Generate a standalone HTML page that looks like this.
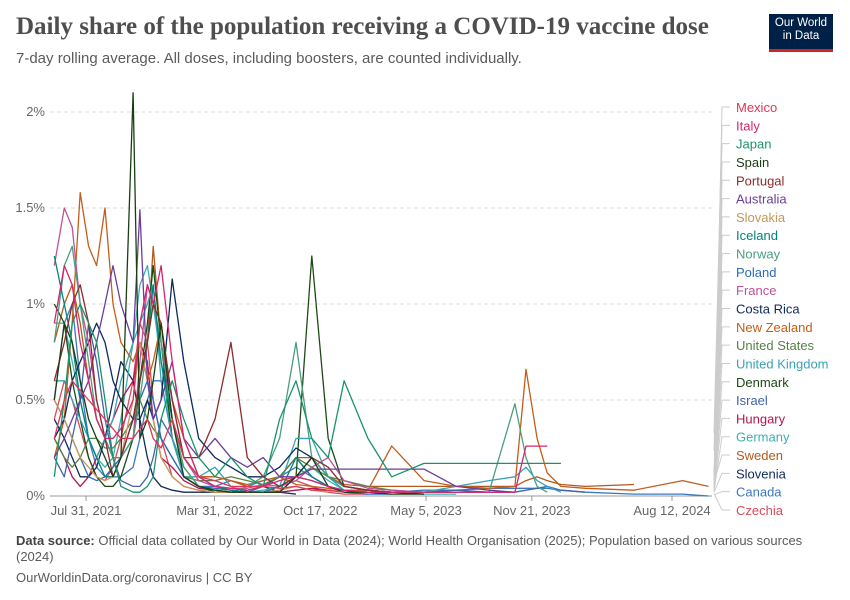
<!DOCTYPE html>
<html><head><meta charset="utf-8">
<style>
body{margin:0;background:#fff;font-family:"Liberation Sans",sans-serif;}
#wrap{position:relative;width:850px;height:600px;overflow:hidden;}
.title{position:absolute;left:16px;top:13px;font-family:"Liberation Serif",serif;font-weight:bold;font-size:25px;color:#4e4e4e;}
.sub{position:absolute;left:16px;top:50px;font-size:15px;color:#5b5b5b;}
.logo{position:absolute;left:769px;top:14px;width:64px;height:38px;background:#002147;color:#fff;font-size:11.5px;line-height:13px;text-align:center;padding-top:3px;box-sizing:border-box;border-bottom:3px solid #ce261e;}
.foot{position:absolute;left:16px;top:533px;width:790px;font-size:13px;color:#5b5b5b;line-height:16px;}
.foot b{color:#444}
.url{position:absolute;left:16px;top:570px;font-size:13px;color:#5b5b5b;}
</style></head><body>
<div id="wrap">
<div class="title">Daily share of the population receiving a COVID-19 vaccine dose</div>
<div class="sub">7-day rolling average. All doses, including boosters, are counted individually.</div>
<div class="logo">Our World<br>in Data</div>
<svg id="chart" width="850" height="600" style="position:absolute;left:0;top:0"></svg>
<div class="foot"><b>Data source:</b> Official data collated by Our World in Data (2024); World Health Organisation (2025); Population based on various sources (2024)</div>
<div class="url">OurWorldinData.org/coronavirus | CC BY</div>
</div>
<script>
const dates=["2021-06-01","2021-06-20","2021-07-05","2021-07-20","2021-08-05","2021-08-20","2021-09-05","2021-09-20","2021-10-05","2021-10-28","2021-11-10","2021-11-24","2021-12-05","2021-12-20","2022-01-10","2022-02-01","2022-03-01","2022-04-01","2022-05-01","2022-06-01","2022-07-01","2022-08-01","2022-09-01","2022-10-01","2022-11-01","2022-12-01","2023-01-15","2023-03-01","2023-05-01","2023-07-01","2023-09-01","2023-10-20","2023-11-10","2023-12-01","2023-12-20","2024-01-15","2024-03-01","2024-06-01","2024-09-01","2024-10-20"];
const countries=["Mexico","Italy","Japan","Spain","Portugal","Australia","Slovakia","Iceland","Norway","Poland","France","Costa Rica","New Zealand","United States","United Kingdom","Denmark","Israel","Hungary","Germany","Sweden","Slovenia","Canada","Czechia"];
const colors=["#e0355a","#d6246e","#18946a","#1b3d12","#8c2b2b","#6b3d9a","#c5975a","#00847e","#4c9e7e","#286bbb","#c15098","#0c2a5e","#c45d1b","#578145","#3aa2b6","#1c4a14","#4263a8","#b0164e","#3bb0b0","#b35a1a","#102a5a","#3a78c0","#d94b5a"];
const vMexico=[0.3,0.5,0.6,0.55,0.5,0.45,0.4,0.35,0.3,0.3,0.35,0.4,0.3,0.25,0.4,0.2,0.1,0.08,0.05,0.05,0.05,0.04,0.05,0.03,0.03,0.02];
const vItaly=[0.9,1.2,1.1,0.8,0.6,0.4,0.3,0.3,0.35,0.5,0.9,1.1,1.0,1.2,0.7,0.3,0.1,0.05,0.04,0.03,0.05,0.08,0.1,0.08,0.05,0.03,0.02,0.02,0.02,0.02,0.02,0.02,0.26,0.26,0.26];
const vJapan=[0.1,0.5,0.9,1.0,0.9,0.8,0.5,0.2,0.05,0.02,0.02,0.05,0.1,0.4,0.6,0.4,0.2,0.1,0.2,0.1,0.05,0.4,0.6,0.3,0.2,0.6,0.3,0.1,0.17,0.17,0.17,0.17,0.17,0.17,0.17,0.17];
const vSpain=[0.5,0.9,0.8,0.6,0.4,0.3,0.2,0.1,0.2,2.1,0.3,0.4,0.6,0.9,0.4,0.1,0.05,0.03,0.02,0.02,0.02,0.02,0.1,0.2,0.05,0.02,0.02,0.01,0.01];
const vPortugal=[0.6,0.8,1.0,1.1,0.9,0.5,0.3,0.1,0.2,0.4,0.6,0.8,1.0,0.9,0.5,0.2,0.2,0.4,0.8,0.2,0.1,0.05,0.1,0.2,0.15,0.05,0.03,0.02];
const vAustralia=[0.2,0.3,0.4,0.5,0.6,0.8,1.0,1.2,1.0,0.8,1.49,0.6,0.4,0.5,0.7,0.3,0.2,0.3,0.2,0.15,0.2,0.1,0.1,0.14,0.14,0.14,0.14,0.14,0.14,0.05,0.03,0.02];
const vSlovakia=[0.5,0.4,0.3,0.2,0.15,0.1,0.08,0.1,0.2,0.5,0.8,0.6,0.4,0.2,0.1,0.05,0.03,0.02,0.02,0.02,0.02,0.03,0.05,0.03,0.02];
const vIceland=[1.25,1.0,0.8,0.5,0.3,0.2,0.1,0.1,0.2,0.4,0.6,0.8,1.1,0.7,0.4,0.2,0.1,0.05,0.03,0.02,0.02,0.02,0.2,0.1,0.05,0.02];
const vNorway=[0.8,1.2,1.3,1.0,0.7,0.4,0.3,0.2,0.2,0.3,0.5,0.8,1.0,0.8,0.4,0.15,0.05,0.03,0.02,0.05,0.1,0.3,0.8,0.2,0.1,0.05,0.03,0.02,0.02,0.02,0.02,0.48,0.2,0.05,0.02];
const vPoland=[0.5,0.4,0.3,0.2,0.1,0.08,0.1,0.15,0.2,0.3,0.5,0.6,0.5,0.3,0.2,0.1,0.05,0.03,0.02,0.02,0.02,0.05,0.1,0.08,0.05,0.02,0.01,0.01];
const vFrance=[1.2,1.5,1.4,1.0,0.8,0.5,0.3,0.2,0.2,0.3,0.7,1.1,1.0,0.8,0.5,0.2,0.08,0.05,0.04,0.04,0.06,0.05,0.08,0.15,0.2,0.08,0.04,0.03,0.02,0.02,0.02];
const vCostaRica=[0.3,0.4,0.6,0.7,0.8,0.9,0.8,0.6,0.5,0.4,0.4,0.5,0.4,0.5,1.13,0.7,0.3,0.2,0.15,0.1,0.1,0.15,0.25,0.2,0.1,0.05,0.03,0.02];
const vNewZealand=[0.2,0.4,0.9,1.58,1.3,1.2,1.5,1.0,0.8,0.7,0.8,0.6,0.7,0.9,0.5,0.3,0.1,0.1,0.08,0.06,0.08,0.1,0.06,0.05,0.04,0.03,0.03,0.26,0.08,0.05,0.04,0.05,0.66,0.3,0.12,0.05,0.04,0.03,0.08,0.05];
const vUS=[0.3,0.2,0.15,0.2,0.3,0.3,0.25,0.25,0.3,0.4,0.5,0.4,0.35,0.3,0.2,0.1,0.08,0.08,0.1,0.08,0.06,0.1,0.2,0.15,0.1,0.08,0.05,0.03,0.02,0.02];
const vUK=[0.6,0.6,0.5,0.4,0.3,0.2,0.3,0.4,0.6,0.8,0.9,1.0,1.1,0.6,0.3,0.1,0.1,0.15,0.05,0.02,0.02,0.05,0.3,0.3,0.1,0.03,0.02,0.02,0.02,0.05,0.08,0.1,0.15,0.08,0.05,0.02];
const vDenmark=[1.0,0.9,0.6,0.4,0.2,0.1,0.05,0.05,0.1,0.3,0.6,0.9,1.2,0.8,0.3,0.1,0.05,0.02,0.02,0.02,0.02,0.02,0.1,1.25,0.3,0.05,0.03,0.02,0.01];
const vIsrael=[0.2,0.1,0.3,0.5,0.9,0.7,0.4,0.2,0.08,0.05,0.05,0.1,0.2,0.4,0.3,0.1,0.05,0.04,0.03,0.02,0.05,0.1,0.2,0.1,0.05,0.03,0.02,0.02,0.02,0.03,0.02,0.02,0.03,0.04,0.05,0.03,0.02];
const vHungary=[0.3,0.2,0.1,0.05,0.1,0.2,0.3,0.4,0.5,0.6,0.8,0.7,0.4,0.2,0.15,0.08,0.04,0.03,0.02,0.02,0.02,0.02,0.03,0.04,0.03,0.02,0.02,0.02];
const vGermany=[0.9,0.9,0.7,0.5,0.3,0.2,0.15,0.2,0.4,0.8,1.1,1.2,1.0,0.7,0.3,0.15,0.05,0.03,0.02,0.02,0.03,0.05,0.1,0.15,0.08,0.03,0.02,0.02,0.01,0.01];
const vSweden=[0.8,1.0,1.1,0.9,0.6,0.4,0.3,0.2,0.2,0.4,0.6,0.8,1.3,0.8,0.4,0.2,0.1,0.1,0.08,0.05,0.05,0.1,0.2,0.2,0.1,0.06,0.05,0.05,0.05,0.05,0.05,0.05,0.08,0.1,0.08,0.06,0.05,0.06];
const vSlovenia=[0.4,0.3,0.2,0.1,0.1,0.15,0.3,0.5,0.7,0.6,0.4,0.2,0.1,0.05,0.03,0.02,0.02,0.02,0.02,0.03,0.05,0.02,0.01];
const vCanada=[0.5,0.9,1.0,0.6,0.3,0.15,0.1,0.1,0.1,0.15,0.3,0.5,0.6,0.6,0.3,0.1,0.05,0.05,0.08,0.05,0.08,0.1,0.15,0.1,0.05,0.03,0.03,0.02,0.03,0.03,0.04,0.04,0.04,0.04,0.04,0.03,0.02,0.01,0.01,0.0];
const vCzechia=[0.4,0.6,0.5,0.35,0.2,0.1,0.08,0.15,0.3,0.6,0.9,0.8,0.5,0.3,0.1,0.05,0.03,0.02,0.02,0.02,0.02,0.05,0.08,0.05,0.02,0.01,0.01];
const seriesValues=[vMexico,vItaly,vJapan,vSpain,vPortugal,vAustralia,vSlovakia,vIceland,vNorway,vPoland,vFrance,vCostaRica,vNewZealand,vUS,vUK,vDenmark,vIsrael,vHungary,vGermany,vSweden,vSlovenia,vCanada,vCzechia];
const yTicks=[0,0.5,1,1.5,2];
const yTickLabels=["0%","0.5%","1%","1.5%","2%"];
const xTicks=["2021-07-31","2022-03-31","2022-10-17","2023-05-05","2023-11-21","2024-08-12"];
const xTickLabels=["Jul 31, 2021","Mar 31, 2022","Oct 17, 2022","May 5, 2023","Nov 21, 2023","Aug 12, 2024"];

const NS="http://www.w3.org/2000/svg";
const svg=document.getElementById('chart');
const t0=Date.parse("2021-07-31"),t1=Date.parse("2024-08-12");
function xs(d){return 86+(Date.parse(d)-t0)/(t1-t0)*586;}
function ys(v){return 496-v*192;}
function mk(tag,attrs){const e=document.createElementNS(NS,tag);for(const k in attrs)e.setAttribute(k,attrs[k]);svg.appendChild(e);return e;}

yTicks.forEach((v,i)=>{
  const g=mk('line',{x1:50,x2:712,y1:ys(v),y2:ys(v),stroke:v===0?'#999':'#ddd','stroke-dasharray':v===0?'':'4,3'});
  
  
  const t=mk('text',{x:45,y:ys(v)+4,'text-anchor':'end','font-size':13,fill:'#666','font-family':'Liberation Sans, sans-serif'});
  t.textContent=yTickLabels[i];
  
  
});
xTicks.forEach((d,i)=>{
  const tk=mk('line',{x1:xs(d),x2:xs(d),y1:496,y2:501,stroke:'#999'});
  
  
  const t=mk('text',{x:xs(d),y:515,'text-anchor':'middle','font-size':13,fill:'#666','font-family':'Liberation Sans, sans-serif'});
  t.textContent=xTickLabels[i];
  
  
});
const n=countries.length;
for(let i=n-1;i>=0;i--){
  const vals=seriesValues[i];
  const pts=vals.map((v,j)=>xs(dates[j]).toFixed(1)+','+ys(v).toFixed(1)).join(' ');
  const p=mk('polyline',{points:pts,fill:'none',stroke:colors[i],'stroke-width':1.3,'stroke-linejoin':'round'});
  
  
}
countries.forEach((c,i)=>{
  const ly=107+i*(403/22);
  const vals=seriesValues[i];
  const ey=ys(vals[vals.length-1]);
  const cl=mk('polyline',{points:`714,${ey-(n-i)*0.6} 722,${ly} 730,${ly}`,fill:'none',stroke:'#ccc','stroke-width':1});
  
  
  const t=mk('text',{x:736,y:ly+5,'font-size':13,fill:colors[i],'font-family':'Liberation Sans, sans-serif'});
  t.textContent=c;
  
  
});
</script>
</body></html>
